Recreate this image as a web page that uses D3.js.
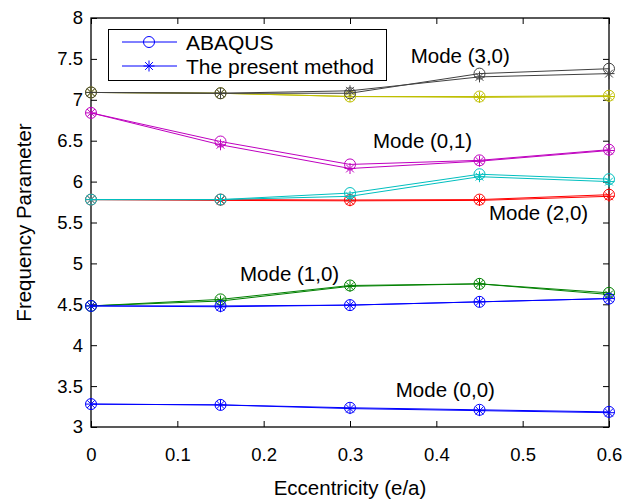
<!DOCTYPE html>
<html>
<head>
<meta charset="utf-8">
<script src="https://cdn.jsdelivr.net/npm/d3@7"></script>
<style>
  body { margin: 0; background: #fff; }
  svg text { font-family: "Liberation Sans", Arial, sans-serif; fill: #000; }
</style>
</head>
<body>
<div id="chart"></div>
<script>
// eccentricity values (x)
const ecc = [0, 0.15, 0.3, 0.45, 0.6];

// frequency parameter per mode: ABAQUS vs the present method
const mode00_abaqus  = [3.28, 3.27, 3.235, 3.21, 3.185];
const mode00_present = [3.28, 3.27, 3.225, 3.20, 3.175];
const mode10a_abaqus  = [4.48, 4.56, 4.73, 4.75, 4.64];
const mode10a_present = [4.48, 4.54, 4.72, 4.75, 4.62];
const mode20a_abaqus  = [5.78, 5.78, 5.775, 5.78, 5.84];
const mode20a_present = [5.78, 5.77, 5.765, 5.77, 5.82];
const mode20b_abaqus  = [5.78, 5.78, 5.86, 6.09, 6.03];
const mode20b_present = [5.78, 5.78, 5.82, 6.06, 6.00];
const mode01_abaqus  = [6.84, 6.49, 6.21, 6.26, 6.39];
const mode01_present = [6.84, 6.45, 6.16, 6.25, 6.38];
const mode30a_abaqus  = [7.09, 7.08, 7.04, 7.04, 7.05];
const mode30a_present = [7.09, 7.08, 7.04, 7.03, 7.04];
const mode30b_abaqus  = [7.09, 7.08, 7.08, 7.32, 7.38];
const mode30b_present = [7.09, 7.08, 7.11, 7.28, 7.32];
const mode10b_abaqus  = [4.48, 4.48, 4.49, 4.53, 4.57];
const mode10b_present = [4.48, 4.47, 4.49, 4.53, 4.57];

const xTicks = [0, 0.1, 0.2, 0.3, 0.4, 0.5, 0.6];
const yTicks = [3, 3.5, 4, 4.5, 5, 5.5, 6, 6.5, 7, 7.5, 8];

const legendLabels = ['ABAQUS', 'The present method'];

// mode labels: text + baseline start point in data units
const modeLabels = [
  { text: 'Mode (3,0)', x: 0.3703, y: 7.446 },
  { text: 'Mode (0,1)', x: 0.3267, y: 6.41 },
  { text: 'Mode (2,0)', x: 0.4610, y: 5.53 },
  { text: 'Mode (1,0)', x: 0.1726, y: 4.785 },
  { text: 'Mode (0,0)', x: 0.3530, y: 3.367 }
];

const series = [
  { color: '#0000ff', abaqus: mode00_abaqus,  present: mode00_present },
  { color: '#008000', abaqus: mode10a_abaqus, present: mode10a_present },
  { color: '#ff0000', abaqus: mode20a_abaqus, present: mode20a_present },
  { color: '#00bfbf', abaqus: mode20b_abaqus, present: mode20b_present },
  { color: '#bf00bf', abaqus: mode01_abaqus,  present: mode01_present },
  { color: '#bfbf00', abaqus: mode30a_abaqus, present: mode30a_present },
  { color: '#404040', abaqus: mode30b_abaqus, present: mode30b_present },
  { color: '#0000ff', abaqus: mode10b_abaqus, present: mode10b_present }
];

const W = 623, H = 502;
const margin = { left: 91, right: 14, top: 18, bottom: 75 };

const svg = d3.select('#chart').append('svg')
  .attr('width', W)
  .attr('height', H);

const x = d3.scaleLinear().domain([0, 0.6]).range([margin.left, W - margin.right]);
const y = d3.scaleLinear().domain([3, 8]).range([H - margin.bottom, margin.top]);

// axes (ticks inward, on all four sides)
const fmt = d => String(+d.toFixed(2));
svg.append('g')
  .attr('transform', `translate(0,${y(3)})`)
  .call(d3.axisBottom(x).tickValues(xTicks).tickFormat(fmt).tickSizeInner(-6).tickSizeOuter(0).tickPadding(21))
  .call(g => g.selectAll('text').style('font-size', '18.5px'));
svg.append('g')
  .attr('transform', `translate(0,${y(8)})`)
  .call(d3.axisTop(x).tickValues(xTicks).tickFormat('').tickSizeInner(-6).tickSizeOuter(0));
svg.append('g')
  .attr('transform', `translate(${x(0)},0)`)
  .call(d3.axisLeft(y).tickValues(yTicks).tickFormat(fmt).tickSizeInner(-6).tickSizeOuter(0).tickPadding(8))
  .call(g => g.selectAll('text').style('font-size', '18.5px'));
svg.append('g')
  .attr('transform', `translate(${x(0.6)},0)`)
  .call(d3.axisRight(y).tickValues(yTicks).tickFormat('').tickSizeInner(-6).tickSizeOuter(0));
svg.selectAll('.domain').remove();
svg.selectAll('.tick line').attr('stroke', '#000');

svg.append('rect')
  .attr('x', x(0)).attr('y', y(8))
  .attr('width', x(0.6) - x(0)).attr('height', y(3) - y(8))
  .attr('fill', 'none').attr('stroke', '#000').attr('stroke-width', 1.3);

// axis titles
svg.append('text')
  .attr('x', (x(0) + x(0.6)) / 2).attr('y', 495)
  .attr('text-anchor', 'middle')
  .style('font-size', '20.5px')
  .text('Eccentricity (e/a)');
svg.append('text')
  .attr('transform', `translate(31,${(y(3) + y(8)) / 2}) rotate(-90)`)
  .attr('text-anchor', 'middle')
  .style('font-size', '20.5px')
  .text('Frequency Parameter');

const line = d3.line().x((d, i) => x(ecc[i])).y(d => y(d));

function circleMark(sel, color) {
  sel.append('circle').attr('r', 5.5)
    .attr('fill', 'none').attr('stroke', color).attr('stroke-width', 1);
}
function starMark(sel, color) {
  const r = 5.5, q = r * Math.SQRT1_2;
  sel.append('path')
    .attr('d', `M${-r},0H${r}M0,${-r}V${r}M${-q},${-q}L${q},${q}M${-q},${q}L${q},${-q}`)
    .attr('stroke', color).attr('stroke-width', 1).attr('fill', 'none');
}

const plot = svg.append('g');
series.forEach(s => {
  [['abaqus', circleMark], ['present', starMark]].forEach(([key, mark]) => {
    const vals = s[key];
    plot.append('path')
      .attr('d', line(vals))
      .attr('fill', 'none')
      .attr('stroke', s.color)
      .attr('stroke-width', 1);
    plot.selectAll(null)
      .data(vals)
      .enter().append('g')
      .attr('transform', (d, i) => `translate(${x(ecc[i])},${y(d)})`)
      .each(function() { mark(d3.select(this), s.color); });
  });
});

// mode labels
svg.selectAll('text.mode')
  .data(modeLabels)
  .enter().append('text')
  .attr('class', 'mode')
  .attr('x', d => x(d.x)).attr('y', d => y(d.y))
  .style('font-size', '20.5px')
  .text(d => d.text);

// legend
const leg = svg.append('g');
leg.append('rect')
  .attr('x', 108.5).attr('y', 29.5).attr('width', 278).attr('height', 51)
  .attr('fill', '#fff').attr('stroke', '#000').attr('stroke-width', 1);
legendLabels.forEach((label, i) => {
  const ly = 42 + i * 24;
  leg.append('line')
    .attr('x1', 122).attr('x2', 177).attr('y1', ly).attr('y2', ly)
    .attr('stroke', '#0000ff').attr('stroke-width', 1);
  const m = leg.append('g').attr('transform', `translate(149,${ly})`);
  (i === 0 ? circleMark : starMark)(m, '#0000ff');
  leg.append('text')
    .attr('x', 186).attr('y', ly + 7.5)
    .style('font-size', '21px')
    .text(label);
});
</script>
</body>
</html>
